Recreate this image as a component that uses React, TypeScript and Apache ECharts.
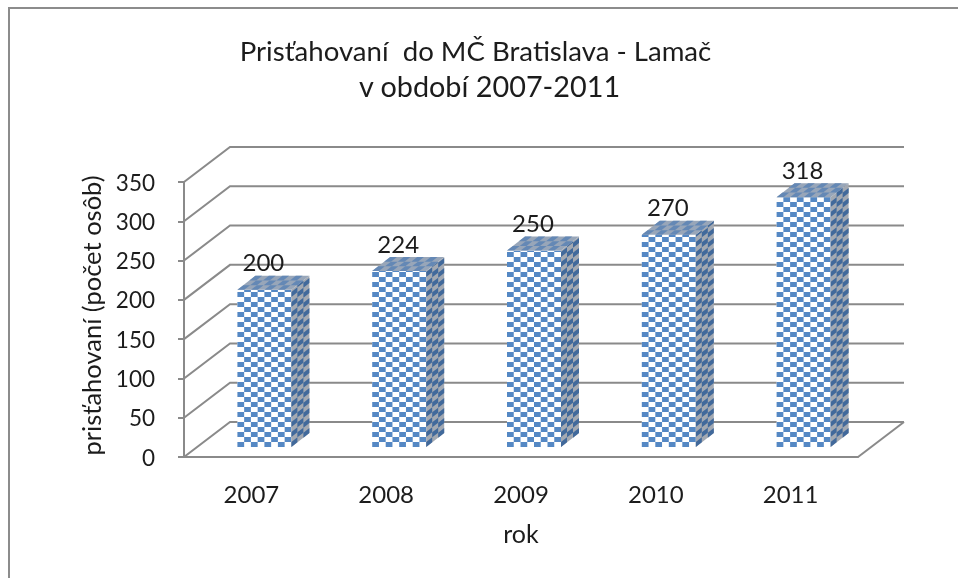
import React, { useEffect, useRef } from "react";
import * as echarts from "echarts";

const years = ["2007", "2008", "2009", "2010", "2011"];
const arrivals = [200, 224, 250, 270, 318];
const yTicks = [0, 50, 100, 150, 200, 250, 300, 350];

const TITLE_LINE_1 = "Prisťahovaní  do MČ Bratislava - Lamač";
const TITLE_LINE_2 = "v období 2007-2011";
const FONT = "Lato, Carlito, Calibri, sans-serif";
const AXIS = "#8a8a8a";
const TEXT = "#1c1c1c";

// oblique projection of the 3-D box
const WALL_DX = 46;
const WALL_DY = -35;
const BAR_DX = 13;
const BAR_DY = -10;
const BAR_W = 54;
const SIDE_DX = 18;
const SIDE_DY = -14;
const CELL_W = 6.75;
const CELL_H = 5;

function renderWall(params: any, api: any) {
  const cs = params.coordSys;
  const y = api.coord([0, api.value(1)])[1];
  const children: any[] = [
    {
      type: "polyline",
      silent: true,
      shape: {
        points: [
          [cs.x, y],
          [cs.x + WALL_DX, y + WALL_DY],
          [cs.x + cs.width + WALL_DX, y + WALL_DY],
        ],
      },
      style: { stroke: AXIS, lineWidth: 2, fill: "none" },
    },
  ];
  if (api.value(1) === 0) {
    children.push({
      type: "polyline",
      silent: true,
      shape: {
        points: [
          [cs.x + cs.width, y],
          [cs.x + cs.width + WALL_DX, y + WALL_DY],
        ],
      },
      style: { stroke: AXIS, lineWidth: 2, fill: "none" },
    });
  }
  return { type: "group", children };
}

function renderBar(_params: any, api: any) {
  const [cx, top0] = api.coord([api.value(0), api.value(1)]);
  const base0 = api.coord([api.value(0), 0])[1];
  const left = cx + BAR_DX - BAR_W / 2;
  const right = left + BAR_W;
  const top = top0 + BAR_DY;
  const base = base0 + BAR_DY;
  const children: any[] = [];
  const poly = (points: number[][], fill: string) =>
    children.push({ type: "polygon", silent: true, shape: { points }, style: { fill } });

  // front face
  poly([[left, top], [right, top], [right, base], [left, base]], "#ffffff");
  const cols = Math.round(BAR_W / CELL_W);
  const rows = Math.ceil((base - top) / CELL_H);
  for (let r = 0; r < rows; r++) {
    const yb = base - r * CELL_H;
    const yt = Math.max(top, yb - CELL_H);
    for (let c = r % 2; c < cols; c += 2) {
      const x = left + c * CELL_W;
      poly([[x, yt], [x + CELL_W, yt], [x + CELL_W, yb], [x, yb]], "#5588c4");
    }
  }

  // side face
  poly([[right, top], [right + SIDE_DX, top + SIDE_DY], [right + SIDE_DX, base + SIDE_DY], [right, base]], "#a3a9b2");
  const sideCols = 3;
  const sx = SIDE_DX / sideCols;
  const sy = SIDE_DY / sideCols;
  for (let r = 0; r < rows; r++) {
    const yb = base - r * CELL_H;
    const yt = Math.max(top, yb - CELL_H);
    for (let c = r % 2; c < sideCols; c += 2) {
      const x0 = right + c * sx;
      const d0 = c * sy;
      poly([[x0, yt + d0], [x0 + sx, yt + d0 + sy], [x0 + sx, yb + d0 + sy], [x0, yb + d0]], "#41699b");
    }
  }

  // top face
  poly([[left, top], [right, top], [right + SIDE_DX, top + SIDE_DY], [left + SIDE_DX, top + SIDE_DY]], "#98a6b9");
  for (let d = 0; d < sideCols; d++) {
    for (let c = d % 2; c < cols; c += 2) {
      const x = left + c * CELL_W + d * sx;
      const y = top + d * sy;
      poly([[x, y], [x + CELL_W, y], [x + CELL_W + sx, y + sy], [x + sx, y + sy]], "#6488b5");
    }
  }

  children.push({
    type: "text",
    silent: true,
    style: {
      x: left + BAR_W / 2 - 1,
      y: top - 28,
      text: String(api.value(1)),
      fill: TEXT,
      font: `24px ${FONT}`,
      align: "center",
      verticalAlign: "middle",
    },
  });
  return { type: "group", children };
}

export default function App() {
  const ref = useRef<HTMLDivElement>(null);
  useEffect(() => {
    document.body.style.margin = "0";
    const chart = echarts.init(ref.current!, undefined, { renderer: "svg" });
    chart.setOption({
      animation: false,
      backgroundColor: "#ffffff",
      title: [
        {
          text: TITLE_LINE_1,
          left: 470.5,
          top: 31,
          textAlign: "center",
          textStyle: { fontFamily: FONT, fontWeight: "normal", fontSize: 27.6, color: TEXT },
        },
        {
          text: TITLE_LINE_2,
          left: 484.5,
          top: 66,
          textAlign: "center",
          textStyle: { fontFamily: FONT, fontWeight: "normal", fontSize: 28.8, color: TEXT },
        },
      ],
      grid: { left: 184, top: 182, width: 674, height: 275 },
      xAxis: {
        type: "category",
        data: years,
        name: "rok",
        nameLocation: "middle",
        nameGap: 63,
        nameTextStyle: { fontFamily: FONT, fontSize: 25, color: TEXT },
        axisLine: { lineStyle: { color: AXIS, width: 2 } },
        axisTick: { show: false },
        axisLabel: { margin: 24, fontFamily: FONT, fontSize: 24, color: TEXT },
      },
      yAxis: {
        type: "value",
        min: 0,
        max: 350,
        interval: 50,
        name: "prisťahovaní (počet osôb)",
        nameLocation: "middle",
        nameRotate: 90,
        nameGap: 80,
        nameTextStyle: { fontFamily: FONT, fontSize: 25.5, color: TEXT, padding: [0, 0, 0, 8] },
        axisLine: { show: true, lineStyle: { color: AXIS, width: 2 } },
        axisTick: { show: true, length: 6, lineStyle: { color: AXIS, width: 2 } },
        axisLabel: { margin: 29, fontFamily: FONT, fontSize: 22.5, color: TEXT },
        splitLine: { show: false },
      },
      series: [
        {
          type: "custom",
          name: "wall",
          renderItem: renderWall,
          data: yTicks.map((v) => [0, v]),
          silent: true,
          z: 1,
        },
        {
          type: "custom",
          name: "prisťahovaní",
          renderItem: renderBar,
          data: arrivals.map((v, i) => [i, v]),
          silent: true,
          z: 3,
        },
      ],
      graphic: [
        {
          type: "polyline",
          silent: true,
          shape: { points: [[958, 8], [9, 8], [9, 578]] },
          style: { stroke: "#8c8c8c", lineWidth: 2, fill: "none" },
        },
      ],
    });
    return () => chart.dispose();
  }, []);
  return (
    <div
      ref={ref}
      style={{ position: "absolute", left: 0, top: 0, width: 958, height: 578, filter: "blur(0.6px)" }}
    />
  );
}
